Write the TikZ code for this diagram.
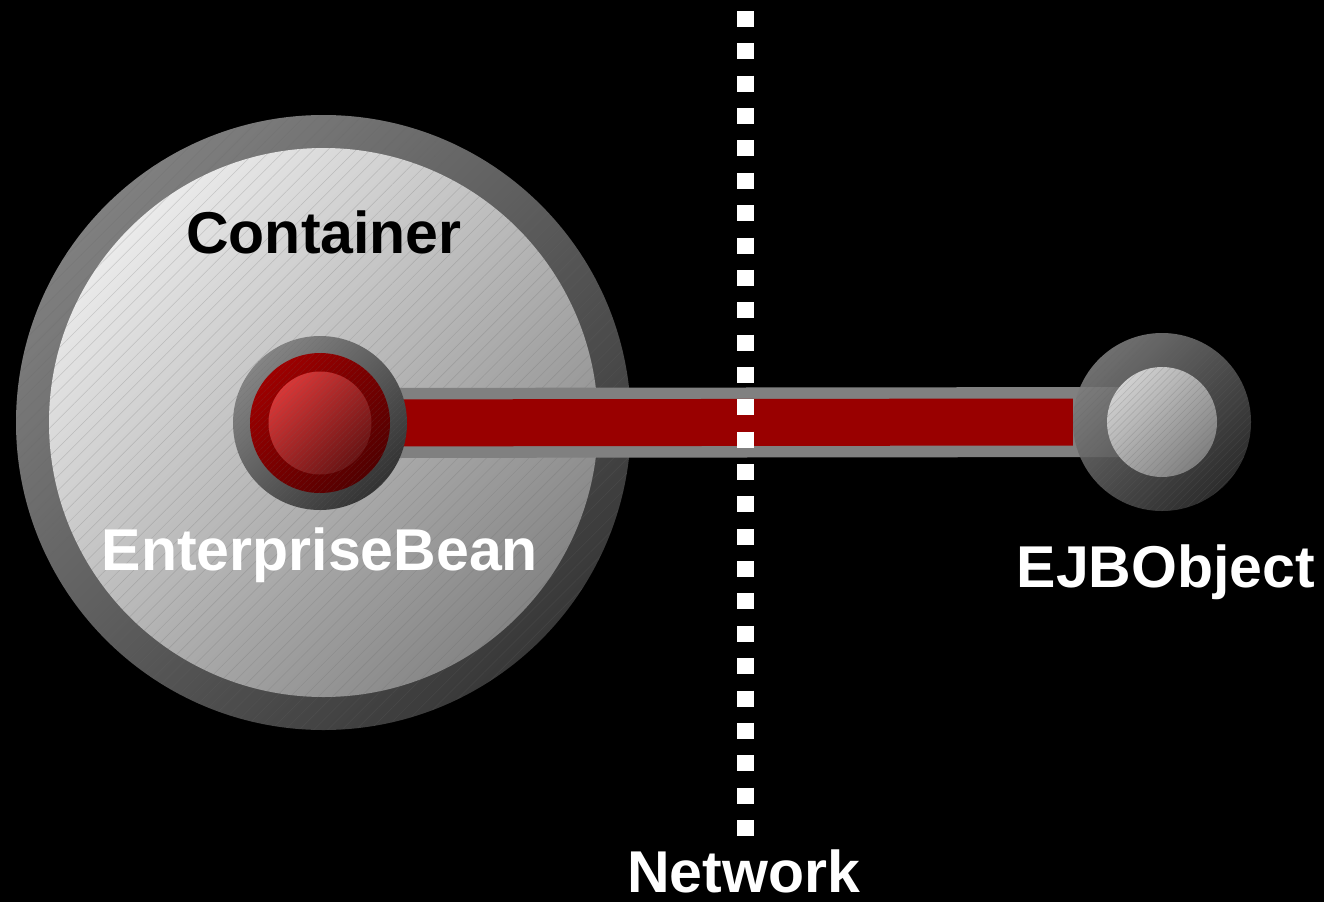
\documentclass[tikz,border=0pt]{standalone}
\usepackage{fontspec}
\setmainfont{Liberation Sans}
\usetikzlibrary{patterns.meta}
\begin{document}
\begin{tikzpicture}[x=1pt,y=-1pt,
  disc/.style={circle,inner sep=0pt,draw=none},
  diag/.style={shading=axis,shading angle=45},
  hatch/.style={pattern={Lines[angle=45,distance=#1,line width=0.5pt]},pattern color=black!60,opacity=0.25},
  lbl/.style={anchor=base,inner sep=0pt,font=\bfseries\fontsize{59}{66}\selectfont},
  bargray/.style={draw=black!50,line width=70pt},
  barred/.style={draw=red!60!black,line width=47pt},
  netline/.style={draw=white,line width=17pt,dash pattern=on 16pt off 16.36pt}]
\fill[black] (0,0) rectangle (1324,902);
\useasboundingbox (0,0) rectangle (1324,902);
% container
\node[disc,top color=black!50,bottom color=black!78,diag,minimum size=615pt] (contOuter) at (323.5,422.5) {};
\fill[hatch=10pt] (contOuter.center) circle[radius=307.5pt];
\node[disc,top color=black!8,bottom color=black!48,diag,minimum size=549pt] (container) at (323.5,422.5) {};
\fill[hatch=10pt] (container.center) circle[radius=274.5pt];
% bean and EJB object positions
\coordinate (beanC) at (320,423);
\coordinate (ejbC) at (1162,422);
% connector
\node[disc,minimum size=178pt] (ejb) at (ejbC) {};
\draw[bargray] (beanC) -- (ejbC);
\draw[barred] (beanC) -- (ejb.west);
% bean
\node[disc,top color=black!48,bottom color=black!80,diag,minimum size=174pt] (beanRing) at (beanC) {};
\node[disc,top color=red!62!black,bottom color=red!32!black,diag,minimum size=140pt] (beanMid) at (beanC) {};
\node[disc,top color={rgb,255:red,215;green,55;blue,55},bottom color={rgb,255:red,105;green,20;blue,20},diag,minimum size=103pt] (bean) at (beanC) {};
\fill[hatch=4pt] (beanC) circle[radius=87pt];
% EJB object
\node[disc,top color=black!50,bottom color=black!80,diag,opacity=0.88,minimum size=178pt] (ejbRing) at (ejbC) {};
\node[disc,top color=black!18,bottom color=black!50,diag,minimum size=110pt] (ejbCore) at (ejbC) {};
\fill[hatch=5pt] (ejbC) circle[radius=89pt];
% network line
\coordinate (netTop) at (745.5,11);
\coordinate (netBot) at (745.5,836);
\draw[netline] (netTop) -- (netBot);
% labels
\node[lbl,text=black] (lcont) at (324,253) {Container};
\node[lbl,text=white] (lbean) at (320,570) {EnterpriseBean};
\node[lbl,text=white] (lejb) at (1166,587) {EJBObject};
\node[lbl,text=white] (lnet) at (743.5,892) {Network};
\end{tikzpicture}
\end{document}
